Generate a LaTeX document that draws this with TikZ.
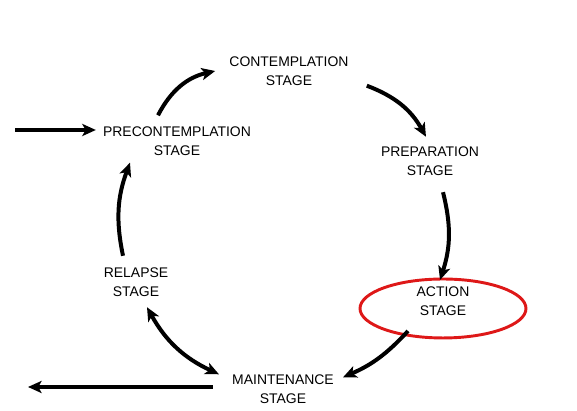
\documentclass[tikz,border=0pt]{standalone}
\usepackage{fontspec}
\setmainfont{Liberation Sans}
\usetikzlibrary{arrows.meta,calc}
\definecolor{ringred}{RGB}{222,24,24}
\tikzset{
  stage/.style={font=\fontsize{10.5}{14.3}\selectfont, align=center, inner sep=0pt},
  cyc/.style={line width=3pt, ->},
  >={Stealth[length=3.6mm,width=3.2mm,inset=0.9mm]}
}
\begin{document}
\begin{tikzpicture}[x=0.02646cm,y=0.02646cm]
  \useasboundingbox (0,0) rectangle (577,411);
  \node[stage] (pre) at (177,270) {PRECONTEMPLATION\\STAGE};
  \node[stage] (con) at (289,340) {CONTEMPLATION\\STAGE};
  \node[stage] (prep) at (430,249.5) {PREPARATION\\STAGE};
  \node[stage] (act) at (443,109.5) {ACTION\\STAGE};
  \node[stage] (mai) at (283,22) {MAINTENANCE\\STAGE};
  \node[stage] (rel) at (136,128.5) {RELAPSE\\STAGE};
  \draw[ringred, line width=2.2pt] ($(act.center)+(0,-7)$) ellipse [x radius=2.196cm, y radius=0.78cm];
  \coordinate (entry) at (15,281);
  \coordinate (exit) at (28,24);
  \draw[cyc] (entry) -- ($(pre.west)+(-7,11)$);
  \draw[cyc] ($(pre.north)+(-19,11)$) to[bend left=25] ($(con.west)+(-14,0)$);
  \draw[cyc] ($(con.south east)+(18,0)$) to[bend left=20] ($(prep.north)+(-4,10)$);
  \draw[cyc] ($(prep.south)+(13,-16)$) to[bend left=16] ($(act.center)+(-3,21.5)$);
  \draw[cyc] ($(act.center)+(-35,-29.5)$) to[bend left=12] ($(mai.north east)+(9,-3)$);
  \draw[cyc, <->] ($(mai.north west)+(-13,0)$) to[bend left=18] ($(rel.south)+(11,-10)$);
  \draw[cyc] ($(rel.north)+(-13,12)$) to[bend left=16] ($(pre.south)+(-47,-7)$);
  \draw[cyc] ($(mai.west)+(-19,2)$) -- (exit);
\end{tikzpicture}
\end{document}
